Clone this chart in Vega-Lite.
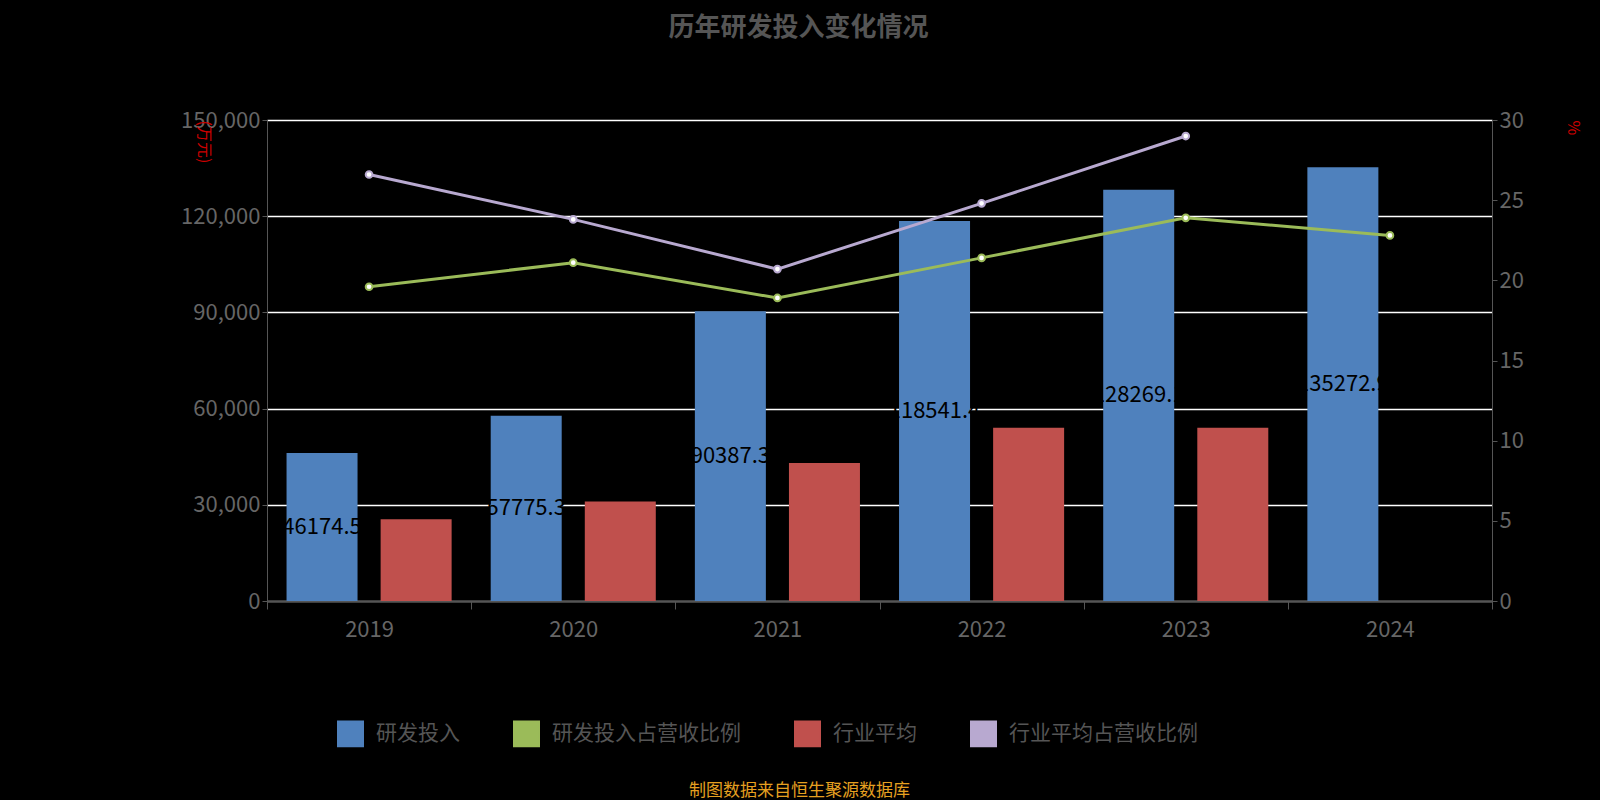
{
  "$schema": "https://vega.github.io/schema/vega-lite/v6.json",
  "autosize": {"type": "none"},
  "width": 1225,
  "height": 481,
  "padding": {"left": 267, "top": 120, "right": 108, "bottom": 199},
  "background": "#000000",
  "title": {"text": "历年研发投入变化情况", "color": "#555555", "fontSize": 26, "fontWeight": "bold", "font": "Noto Sans CJK SC", "offset": 68, "dx": -81},
  "config": {"view": {"stroke": null}, "font": "Noto Sans CJK SC"},
  "data": {"values": [
    {"year": "2019", "series": "研发投入", "value": 46174.5},
    {"year": "2020", "series": "研发投入", "value": 57775.3},
    {"year": "2021", "series": "研发投入", "value": 90387.3},
    {"year": "2022", "series": "研发投入", "value": 118541.4},
    {"year": "2023", "series": "研发投入", "value": 128269.1},
    {"year": "2024", "series": "研发投入", "value": 135272.9},
    {"year": "2019", "series": "行业平均", "value": 25500},
    {"year": "2020", "series": "行业平均", "value": 31000},
    {"year": "2021", "series": "行业平均", "value": 43000},
    {"year": "2022", "series": "行业平均", "value": 54000},
    {"year": "2023", "series": "行业平均", "value": 54000},
    {"year": "2019", "series": "研发投入占营收比例", "value": 19.6},
    {"year": "2020", "series": "研发投入占营收比例", "value": 21.1},
    {"year": "2021", "series": "研发投入占营收比例", "value": 18.9},
    {"year": "2022", "series": "研发投入占营收比例", "value": 21.4},
    {"year": "2023", "series": "研发投入占营收比例", "value": 23.9},
    {"year": "2024", "series": "研发投入占营收比例", "value": 22.8},
    {"year": "2019", "series": "行业平均占营收比例", "value": 26.6},
    {"year": "2020", "series": "行业平均占营收比例", "value": 23.8},
    {"year": "2021", "series": "行业平均占营收比例", "value": 20.7},
    {"year": "2022", "series": "行业平均占营收比例", "value": 24.8},
    {"year": "2023", "series": "行业平均占营收比例", "value": 29.0}
  ]},
  "encoding": {
    "x": {"field": "year", "type": "nominal", "scale": {"paddingInner": 0, "paddingOuter": 0},
      "axis": {"title": "制图数据来自恒生聚源数据库", "titleColor": "#e6a020", "titleFontSize": 17, "titleFontWeight": "normal", "titlePadding": 142, "titleX": 532, "titleAlign": "center",
        "labelAngle": 0, "labelColor": "#666666", "labelFontSize": 22, "labelPadding": 10, "domainColor": "#555555", "tickColor": "#555555", "tickSize": 8, "tickBand": "extent"}}
  },
  "layer": [
    {
      "transform": [{"filter": "datum.series === '研发投入' || datum.series === '行业平均'"}],
      "layer": [
        {
          "mark": {"type": "bar", "width": 71},
          "encoding": {
            "xOffset": {"field": "series", "type": "nominal", "sort": ["研发投入", "行业平均"], "scale": {"domain": ["研发投入", "行业平均"], "paddingInner": 0.25, "paddingOuter": 0.21}},
            "y": {"field": "value", "type": "quantitative", "scale": {"domain": [0, 150000], "nice": false},
              "axis": {"title": "(万元)", "titleColor": "#cc0000", "titleFontSize": 16, "titleFontWeight": "normal", "titleAngle": 90, "titleX": -72, "titleY": 0, "titleAlign": "left",
                "values": [0, 30000, 60000, 90000, 120000, 150000], "format": ",d", "labelColor": "#666666", "labelFontSize": 22,
                "grid": true, "gridColor": "#ffffff", "gridWidth": 1.5, "domainColor": "#555555", "tickColor": "#555555"}},
            "color": {"field": "series", "type": "nominal",
              "scale": {"domain": ["研发投入", "研发投入占营收比例", "行业平均", "行业平均占营收比例"], "range": ["#4f81bd", "#9bbb59", "#c0504d", "#b8a9d0"]},
              "legend": {"title": null, "orient": "none", "legendX": 70, "legendY": 600, "direction": "horizontal", "columns": 4, "labelColor": "#555555", "labelFontSize": 21, "labelLimit": 0, "labelOffset": 12, "symbolType": "square", "symbolSize": 650, "columnPadding": 50, "symbolOpacity": 1}}
          }
        },
        {
          "mark": {"type": "text", "fontSize": 22, "color": "#000000"},
          "encoding": {
            "xOffset": {"field": "series", "type": "nominal", "sort": ["研发投入", "行业平均"], "scale": {"domain": ["研发投入", "行业平均"], "paddingInner": 0.25, "paddingOuter": 0.21}},
            "y": {"field": "mid", "type": "quantitative"},
            "text": {"field": "value", "type": "quantitative", "format": ".1f"}
          },
          "transform": [{"filter": "datum.series === '研发投入'"}, {"calculate": "datum.value / 2", "as": "mid"}]
        }
      ]
    },
    {
      "transform": [{"filter": "datum.series === '研发投入占营收比例' || datum.series === '行业平均占营收比例'"}],
      "layer": [
        {
          "mark": {"type": "line", "strokeWidth": 3},
          "encoding": {
            "y": {"field": "value", "type": "quantitative", "scale": {"domain": [0, 30], "nice": false},
              "axis": {"orient": "right", "title": "%", "titleColor": "#cc0000", "titleFontSize": 16, "titleFontWeight": "normal", "titleAngle": 90, "titleX": 72, "titleY": 0, "titleAlign": "left",
                "values": [0, 5, 10, 15, 20, 25, 30], "labelColor": "#666666", "labelFontSize": 22, "grid": false, "domainColor": "#555555", "tickColor": "#555555"}},
            "color": {"field": "series", "type": "nominal"}
          }
        },
        {
          "mark": {"type": "point", "filled": true, "fill": "#ffffff", "size": 45, "strokeWidth": 2, "opacity": 1},
          "encoding": {
            "y": {"field": "value", "type": "quantitative"},
            "stroke": {"field": "series", "type": "nominal", "scale": {"domain": ["研发投入占营收比例", "行业平均占营收比例"], "range": ["#9bbb59", "#b8a9d0"]}, "legend": null}
          }
        }
      ]
    }
  ],
  "resolve": {"scale": {"y": "independent"}}
}
